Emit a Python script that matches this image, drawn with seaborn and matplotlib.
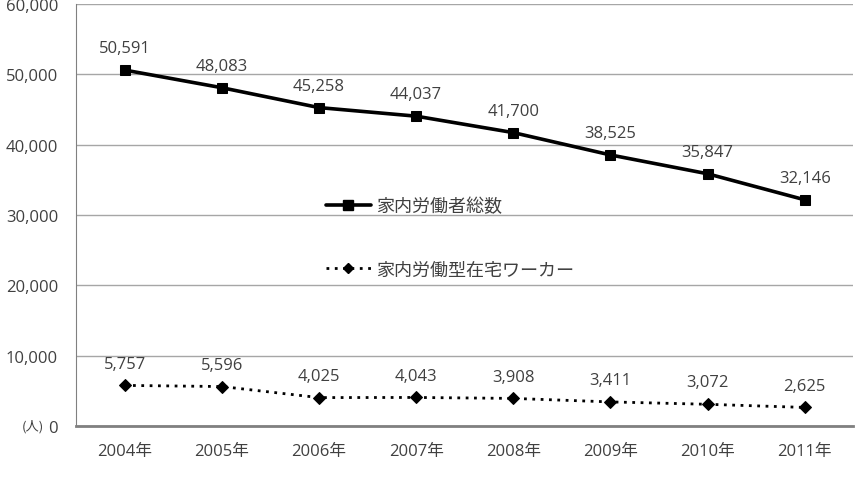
import numpy as np
import pandas as pd
import seaborn as sns
import matplotlib.pyplot as plt
from matplotlib.lines import Line2D

years = ['2004年', '2005年', '2006年', '2007年', '2008年', '2009年', '2010年', '2011年']
total = [50591, 48083, 45258, 44037, 41700, 38525, 35847, 32146]
homework = [5757, 5596, 4025, 4043, 3908, 3411, 3072, 2625]
name_total = '家内労働者総数'
name_home = '家内労働型在宅ワーカー'

sns.set_style('white')
plt.rcParams['font.family'] = ['Open Sans', 'Noto Sans CJK JP', 'DejaVu Sans']

df = pd.DataFrame({'year': years * 2,
                   'value': total + homework,
                   'series': [name_total] * 8 + [name_home] * 8})

txt = '#404040'
fig = plt.figure(figsize=(8.55, 4.89), dpi=100)
ax = fig.add_axes([0.089, 0.127, 0.909, 0.863])

sns.lineplot(data=df[df.series == name_total], x='year', y='value', ax=ax,
             color='black', lw=2.6, marker='s', markersize=7.5, markeredgecolor='black')
sns.lineplot(data=df[df.series == name_home], x='year', y='value', ax=ax,
             color='black', lw=2, ls=(0, (1, 2)), marker='D', markersize=6.5,
             markeredgecolor='black')

for i, v in enumerate(total):
    ax.annotate(f'{v:,}', (i, v), xytext=(0, 10), textcoords='offset points',
                ha='center', va='bottom', fontsize=12, color=txt)
for i, v in enumerate(homework):
    ax.annotate(f'{v:,}', (i, v), xytext=(0, 10), textcoords='offset points',
                ha='center', va='bottom', fontsize=12, color=txt)

ax.set_xlim(-0.5, 7.5)
ax.set_ylim(0, 60000)
ax.set_yticks(np.arange(0, 60001, 10000))
ax.set_yticklabels([f'{t:,}' for t in range(0, 60001, 10000)])
ax.yaxis.grid(True, color='#a6a6a6', lw=1)
ax.set_axisbelow(True)
ax.set_xlabel('')
ax.set_ylabel('')
ax.tick_params(axis='both', labelsize=12, colors=txt, length=0)
ax.tick_params(axis='x', pad=12)
ax.tick_params(axis='y', pad=13)
for s in ['top', 'right']:
    ax.spines[s].set_visible(False)
ax.spines['left'].set_color('#808080')
ax.spines['bottom'].set_color('#808080')
ax.spines['bottom'].set_linewidth(2)

ax.text(-0.056, 0, '(人)', transform=ax.transAxes, fontsize=9.5, color=txt,
        ha='center', va='center', family=['Noto Sans CJK JP', 'DejaVu Sans'])

handles = [Line2D([], [], color='black', lw=2.6, marker='s', markersize=7),
           Line2D([], [], color='black', lw=2, ls=(0, (1, 2)), marker='D', markersize=5.5)]
ax.legend(handles, [name_total, name_home], loc='center left',
          bbox_to_anchor=(0.30, 0.445), frameon=False, labelspacing=2.5,
          fontsize=13, handlelength=2.5, handletextpad=0.3, labelcolor=txt)

fig.savefig('out.png', dpi=100)
